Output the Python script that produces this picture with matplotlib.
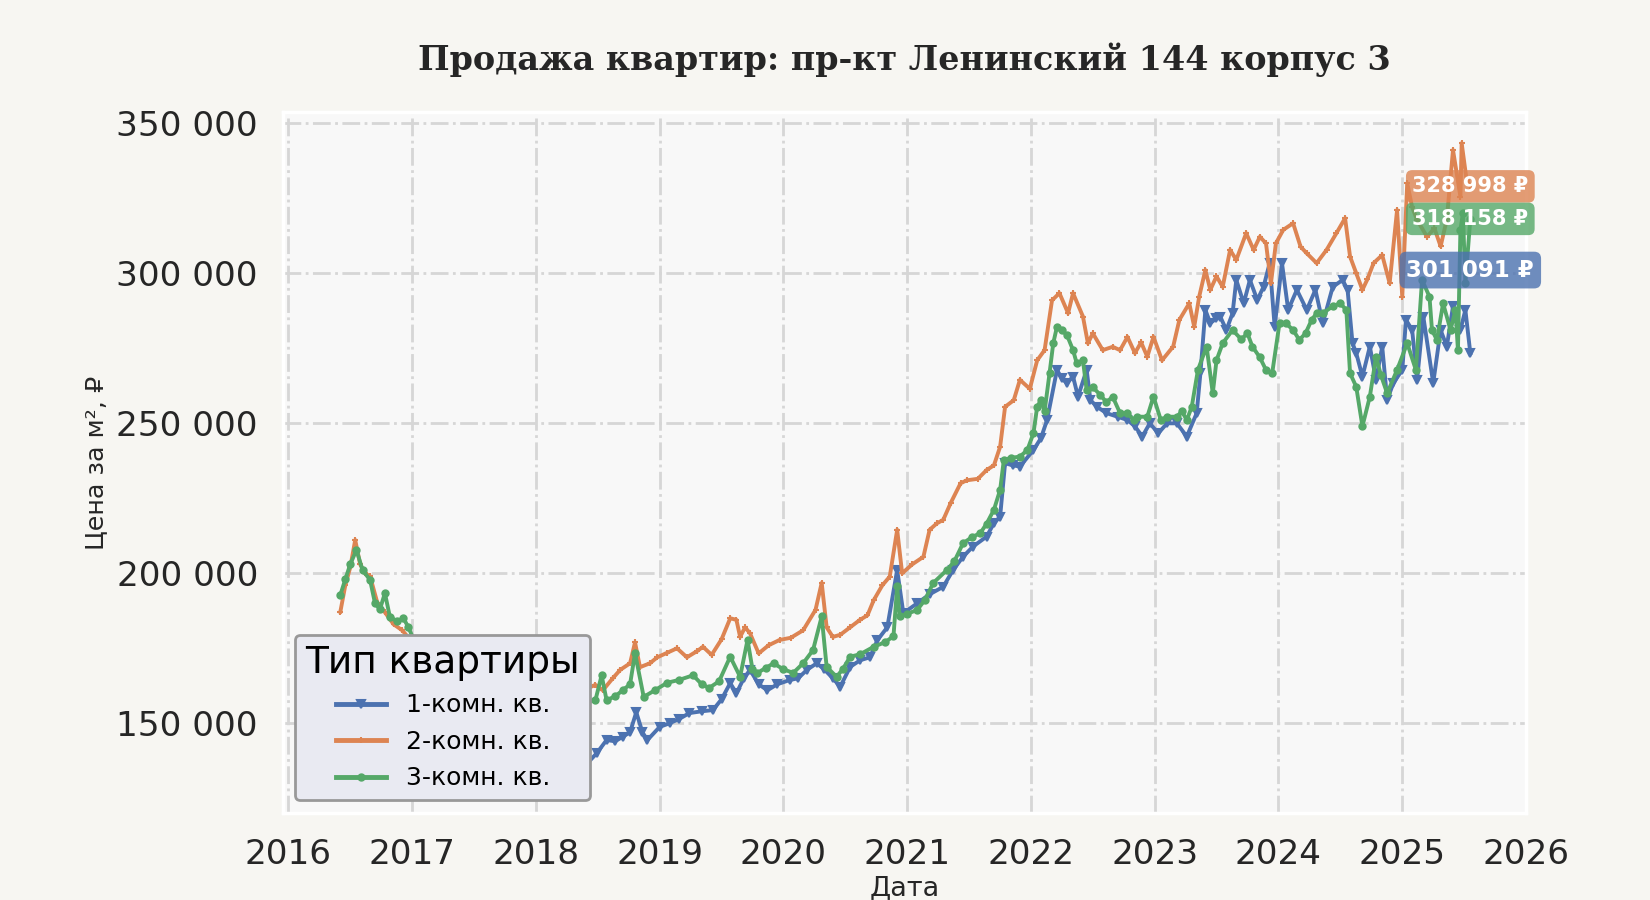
import matplotlib
matplotlib.use("Agg")
import matplotlib.pyplot as plt
import pandas as pd
from matplotlib.ticker import FuncFormatter
from matplotlib.dates import YearLocator, DateFormatter

one_room_t = [2018.20, 2018.30, 2018.40, 2018.49, 2018.57, 2018.64, 2018.70, 2018.76, 2018.81, 2018.86,
              2018.90, 2019.00, 2019.08, 2019.16, 2019.24, 2019.34, 2019.43, 2019.50, 2019.57, 2019.62,
              2019.68, 2019.73, 2019.80, 2019.87, 2019.95, 2020.05, 2020.12, 2020.19, 2020.27, 2020.33,
              2020.40, 2020.46, 2020.54, 2020.62, 2020.70, 2020.76, 2020.84, 2020.92, 2020.97, 2021.08,
              2021.18, 2021.29, 2021.37, 2021.45, 2021.53, 2021.64, 2021.70, 2021.75, 2021.79, 2021.85,
              2021.91, 2022.02, 2022.08, 2022.13, 2022.21, 2022.25, 2022.29, 2022.34, 2022.38, 2022.45,
              2022.48, 2022.53, 2022.61, 2022.70, 2022.78, 2022.84, 2022.90, 2022.96, 2023.03, 2023.10,
              2023.18, 2023.26, 2023.34, 2023.37, 2023.41, 2023.45, 2023.50, 2023.53, 2023.58, 2023.63,
              2023.66, 2023.72, 2023.77, 2023.83, 2023.88, 2023.93, 2023.97, 2024.03, 2024.08, 2024.15,
              2024.23, 2024.30, 2024.36, 2024.44, 2024.52, 2024.56, 2024.60, 2024.63, 2024.68, 2024.74,
              2024.79, 2024.84, 2024.88, 2024.93, 2025.00, 2025.03, 2025.08, 2025.12, 2025.17, 2025.25,
              2025.31, 2025.36, 2025.41, 2025.47, 2025.51, 2025.55]
one_room_v = [131.0, 133.0, 136.0, 140.0, 144.4, 144.0, 145.5, 147.0, 153.7, 147.0,
              144.4, 148.8, 150.0, 151.5, 153.4, 154.0, 154.4, 158.0, 163.4, 160.0,
              165.0, 167.8, 163.0, 161.0, 163.0, 164.4, 165.0, 167.8, 170.0, 168.0,
              165.0, 162.2, 168.8, 171.0, 172.0, 177.7, 182.0, 201.1, 186.7, 190.0,
              193.0, 195.5, 201.1, 205.5, 208.9, 212.2, 216.7, 218.9, 236.7, 236.0,
              235.6, 241.1, 245.0, 251.1, 267.8, 265.0, 263.4, 265.6, 258.9, 267.8,
              257.8, 255.6, 253.4, 252.2, 251.1, 249.0, 245.6, 250.0, 246.7, 250.0,
              250.0, 245.6, 253.4, 266.7, 287.8, 283.4, 285.0, 285.6, 281.1, 286.7,
              297.8, 290.0, 297.8, 291.1, 295.5, 303.4, 282.2, 303.4, 287.8, 294.5,
              287.8, 294.5, 283.4, 295.5, 297.8, 294.5, 276.7, 273.4, 265.6, 275.6,
              264.5, 275.6, 257.8, 263.4, 267.8, 284.5, 281.1, 264.5, 285.6, 263.4,
              281.1, 275.6, 289.0, 281.1, 287.8, 273.4]

two_room_t = [2016.42, 2016.46, 2016.50, 2016.54, 2016.58, 2016.62, 2016.66, 2016.72, 2016.78, 2016.85,
              2016.92, 2017.00, 2017.15, 2017.35, 2017.55, 2017.75, 2017.95, 2018.15, 2018.32, 2018.48,
              2018.54, 2018.62, 2018.68, 2018.76, 2018.80, 2018.84, 2018.92, 2018.98, 2019.06, 2019.14,
              2019.22, 2019.30, 2019.35, 2019.42, 2019.50, 2019.57, 2019.62, 2019.65, 2019.69, 2019.73,
              2019.80, 2019.88, 2019.97, 2020.06, 2020.16, 2020.26, 2020.31, 2020.35, 2020.40, 2020.46,
              2020.54, 2020.62, 2020.68, 2020.73, 2020.80, 2020.86, 2020.92, 2020.96, 2021.04, 2021.13,
              2021.18, 2021.24, 2021.29, 2021.35, 2021.43, 2021.48, 2021.57, 2021.64, 2021.70, 2021.75,
              2021.79, 2021.86, 2021.91, 2021.99, 2022.05, 2022.11, 2022.17, 2022.23, 2022.30, 2022.34,
              2022.42, 2022.46, 2022.50, 2022.58, 2022.66, 2022.72, 2022.78, 2022.84, 2022.89, 2022.94,
              2022.99, 2023.06, 2023.15, 2023.20, 2023.28, 2023.32, 2023.36, 2023.41, 2023.45, 2023.50,
              2023.55, 2023.61, 2023.66, 2023.74, 2023.80, 2023.85, 2023.90, 2023.94, 2023.98, 2024.04,
              2024.12, 2024.18, 2024.23, 2024.31, 2024.39, 2024.47, 2024.54, 2024.58, 2024.63, 2024.68,
              2024.72, 2024.77, 2024.84, 2024.90, 2024.96, 2025.00, 2025.04, 2025.08, 2025.12, 2025.20,
              2025.26, 2025.31, 2025.36, 2025.41, 2025.47, 2025.48, 2025.52, 2025.55]
two_room_v = [187.2, 196.0, 202.0, 211.1, 203.0, 200.0, 199.0, 190.0, 187.0, 183.0,
              181.0, 177.0, 174.0, 171.0, 168.0, 165.0, 163.0, 161.0, 160.0, 162.8,
              161.0, 165.0, 167.8, 170.0, 177.0, 168.7, 170.0, 172.0, 173.5, 175.0,
              172.0, 174.0, 175.5, 172.8, 178.0, 185.0, 184.5, 178.8, 182.0, 180.0,
              173.3, 176.0, 177.8, 178.5, 181.0, 187.8, 196.8, 182.0, 178.8, 179.5,
              182.0, 184.5, 186.0, 191.0, 196.0, 198.9, 214.5, 200.0, 203.0, 205.5,
              214.5, 216.7, 217.8, 223.4, 230.0, 231.0, 231.5, 234.4, 236.0, 242.2,
              255.5, 257.7, 264.5, 261.5, 271.0, 274.4, 291.0, 293.4, 286.7, 293.4,
              285.6, 276.7, 280.0, 274.4, 275.5, 274.4, 278.8, 273.4, 277.0, 272.2,
              278.8, 271.0, 275.6, 284.5, 290.0, 282.2, 292.2, 301.1, 294.5, 299.0,
              295.5, 307.8, 304.5, 313.4, 307.8, 312.2, 310.0, 296.7, 310.0, 314.5,
              316.7, 308.9, 306.7, 303.4, 307.8, 313.4, 318.4, 305.6, 300.0, 294.5,
              298.0, 303.4, 306.1, 296.7, 321.1, 292.2, 330.0, 322.0, 317.8, 312.2,
              315.0, 309.0, 318.0, 341.1, 325.6, 343.4, 331.1, 329.0]

three_room_t = [2016.42, 2016.46, 2016.50, 2016.55, 2016.60, 2016.66, 2016.70, 2016.74, 2016.78, 2016.82,
                2016.88, 2016.93, 2016.97, 2017.02, 2017.20, 2017.40, 2017.60, 2017.80, 2018.00, 2018.20,
                2018.36, 2018.48, 2018.53, 2018.57, 2018.64, 2018.70, 2018.76, 2018.80, 2018.87, 2018.96,
                2019.06, 2019.16, 2019.27, 2019.34, 2019.40, 2019.48, 2019.57, 2019.65, 2019.71, 2019.75,
                2019.79, 2019.86, 2019.92, 2020.00, 2020.08, 2020.16, 2020.24, 2020.31, 2020.35, 2020.43,
                2020.48, 2020.54, 2020.62, 2020.73, 2020.82, 2020.89, 2020.92, 2020.94, 2021.00, 2021.08,
                2021.14, 2021.21, 2021.32, 2021.38, 2021.45, 2021.52, 2021.59, 2021.64, 2021.70, 2021.75,
                2021.78, 2021.84, 2021.91, 2021.97, 2022.02, 2022.05, 2022.08, 2022.11, 2022.15, 2022.18,
                2022.21, 2022.25, 2022.29, 2022.34, 2022.37, 2022.42, 2022.45, 2022.50, 2022.56, 2022.61,
                2022.66, 2022.72, 2022.78, 2022.83, 2022.86, 2022.94, 2022.99, 2023.05, 2023.10, 2023.18,
                2023.22, 2023.26, 2023.30, 2023.35, 2023.42, 2023.47, 2023.50, 2023.55, 2023.63, 2023.70,
                2023.75, 2023.79, 2023.85, 2023.90, 2023.95, 2024.01, 2024.06, 2024.12, 2024.17, 2024.22,
                2024.27, 2024.31, 2024.36, 2024.44, 2024.50, 2024.55, 2024.58, 2024.63, 2024.68, 2024.74,
                2024.79, 2024.83, 2024.88, 2024.96, 2025.04, 2025.11, 2025.16, 2025.22, 2025.24, 2025.28,
                2025.33, 2025.39, 2025.43, 2025.45, 2025.47, 2025.49, 2025.51, 2025.55]
three_room_v = [192.8, 198.0, 203.0, 207.8, 201.0, 197.8, 190.0, 188.0, 193.4, 185.5,
                184.0, 185.0, 182.0, 177.0, 174.0, 170.0, 166.0, 163.0, 160.0, 158.0,
                157.0, 157.7, 166.0, 157.7, 159.0, 161.0, 163.0, 173.4, 158.8, 161.0,
                163.5, 164.5, 166.0, 163.0, 161.8, 164.0, 172.2, 165.5, 177.8, 168.0,
                166.8, 168.5, 170.0, 168.0, 166.8, 170.0, 174.4, 185.6, 168.8, 165.5,
                168.0, 172.2, 173.0, 175.5, 177.0, 179.0, 195.6, 185.6, 186.5, 187.8,
                191.0, 196.8, 201.1, 204.0, 210.0, 212.0, 213.4, 216.5, 221.2, 227.8,
                237.8, 238.5, 238.9, 241.1, 246.7, 255.5, 257.7, 254.0, 266.7, 276.7,
                282.2, 281.0, 279.5, 274.4, 270.0, 271.0, 261.1, 262.0, 259.5, 257.0,
                258.9, 253.4, 253.4, 251.1, 252.2, 252.2, 258.9, 251.1, 252.2, 252.2,
                254.0, 251.1, 255.5, 267.8, 275.6, 260.0, 271.0, 276.7, 281.1, 278.0,
                280.0, 275.6, 272.0, 267.8, 266.7, 283.4, 283.4, 281.1, 277.8, 280.0,
                284.5, 286.7, 286.7, 289.0, 290.0, 287.8, 266.7, 262.2, 249.0, 258.9,
                272.2, 266.0, 260.0, 267.8, 276.7, 267.8, 297.8, 292.2, 281.1, 277.8,
                290.0, 281.1, 287.8, 274.4, 314.5, 320.0, 296.7, 318.2]

series_labels = ['1-комн. кв.', '2-комн. кв.', '3-комн. кв.']
last_prices = [301091, 328998, 318158]
label_date = 2025.55

colors = ['#4C72B0', '#DD8452', '#55A868']
markers = ['v', '+', 'o']
marker_sizes = [6, 5, 4.5]


def to_dates(years):
    out = []
    for y in years:
        base = pd.Timestamp(year=int(y), month=1, day=1)
        out.append(base + pd.Timedelta(days=(y - int(y)) * 365.25))
    return out


fig = plt.figure(figsize=(16.5, 9), dpi=100, facecolor='#f7f6f2')
ax = fig.add_axes([0.1715, 0.0967, 0.7533, 0.7789], facecolor='#f8f8f8')

all_t = [one_room_t, two_room_t, three_room_t]
all_v = [one_room_v, two_room_v, three_room_v]
for t, v, lab, c, m, ms in zip(all_t, all_v, series_labels, colors, markers, marker_sizes):
    ax.plot(to_dates(t), [x * 1000 for x in v], color=c, marker=m, markersize=ms,
            markeredgewidth=1.5, linewidth=2.8, label=lab)

# price labels at the right end
label_sizes = [16.5, 15, 15]
for price, c, fs in zip(last_prices, colors, label_sizes):
    txt = f"{price:,}".replace(",", " ") + " ₽"
    ax.text(to_dates([label_date])[0], price, txt, ha='center', va='center',
            fontsize=fs, fontweight='bold', color='white',
            bbox=dict(boxstyle='round,pad=0.3', facecolor=c, edgecolor='none', alpha=0.8))

ax.set_xlim(pd.Timestamp('2015-12-16'), pd.Timestamp('2026-01-01'))
ax.set_ylim(120100, 353800)

ax.xaxis.set_major_locator(YearLocator(1))
ax.xaxis.set_major_formatter(DateFormatter('%Y'))
ax.yaxis.set_major_formatter(FuncFormatter(lambda v, p: f"{int(v):,}".replace(",", " ")))
ax.set_yticks([150000, 200000, 250000, 300000, 350000])

ax.tick_params(axis='both', length=0, pad=18, labelsize=24.7, labelcolor='#262626')
ax.grid(True, color='#d6d6d6', linestyle='-.', linewidth=2)
ax.set_axisbelow(True)
for s in ax.spines.values():
    s.set_color('white')
    s.set_linewidth(2.5)

ax.set_title('Продажа квартир: пр-кт Ленинский 144 корпус 3', family='DejaVu Serif',
             fontweight='bold', fontsize=24, color='#262626', pad=30)
ax.set_ylabel('Цена за м², ₽', fontsize=18.3, color='#262626', labelpad=6)
ax.set_xlabel('Дата', fontsize=19.5, color='#262626', labelpad=3)

leg = ax.legend(title='Тип квартиры', loc='lower left', fontsize=18, title_fontsize=27,
                labelspacing=0.5, facecolor='#e9eaf2', edgecolor='#999999', framealpha=1,
                fancybox=True)
leg.get_frame().set_linewidth(2)
for h in leg.legend_handles:
    h.set_linewidth(3.5)

fig.savefig('out.png', dpi=100, facecolor=fig.get_facecolor())
